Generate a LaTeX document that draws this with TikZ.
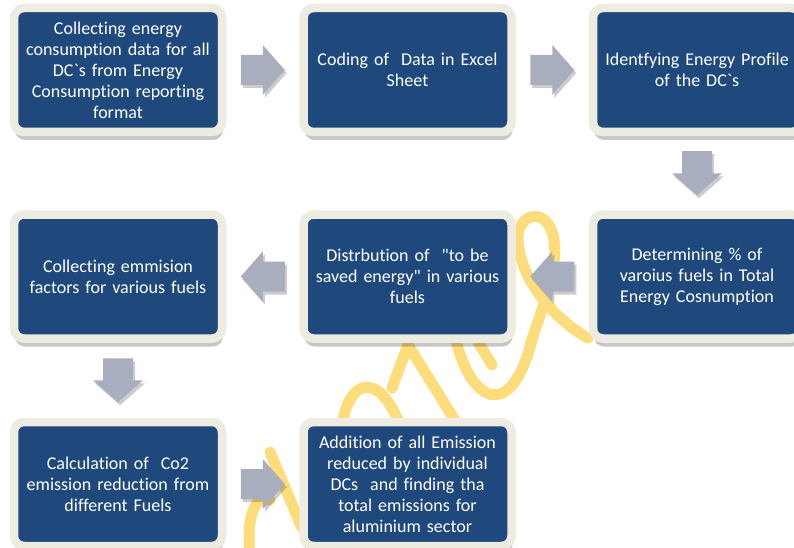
\documentclass[tikz,border=0pt]{standalone}
\usepackage{fontspec}
\setmainfont{Carlito}[Ligatures={TeXOff,CommonOff}]
\usetikzlibrary{shadows,calc}
\definecolor{boxblue}{HTML}{1F497D}
\definecolor{frame}{HTML}{EEEBE0}
\definecolor{arrowgray}{HTML}{A9AEBF}
\definecolor{wmk}{HTML}{FDDC7C}
\newcommand\flowarrow[3]{%
  \coordinate (#1) at #2;
  \fill[arrowfill, shift={(#1)}, rotate=#3]
    (-22,-15) -- (0,-15) -- (0,-25) -- (22,0) -- (0,25) -- (0,15) -- (-22,15) -- cycle;}
\begin{document}
\begin{tikzpicture}[x=1pt,y=-1pt,
  stepbox/.style={draw=frame, line width=8.5pt, fill=boxblue, rounded corners=10pt,
    minimum width=208pt, minimum height=124pt, inner sep=0pt, text width=200pt,
    align=center, text=white, font=\fontsize{18}{21}\selectfont,
    drop shadow={shadow xshift=1pt, shadow yshift=-8pt, opacity=0.22, fill=black}},
  arrowfill/.style={fill=arrowgray,
    drop shadow={shadow xshift=2pt, shadow yshift=-3pt, opacity=0.2, fill=black}},
  wm/.style={draw=wmk, line width=11pt, line cap=round}]
\useasboundingbox (0,0) rectangle (794,548);
% watermark
\draw[wm] (250,556) .. controls (246,515) and (255,495) .. (270,500);
\draw[wm] (270,452) -- (302,528);
\draw[wm] (343,422) .. controls (348,385) and (375,368) .. (398,420);
\draw[wm] (392,388) -- (408,345) -- (456,422);
\draw[wm] (456,340) .. controls (470,400) and (510,425) .. (532,340);
\draw[wm] (478,342) -- (492,365);
\draw[wm] (588,338) .. controls (555,320) and (520,280) .. (518,240)
  .. controls (516,215) and (545,205) .. (553,235)
  .. controls (560,265) and (545,300) .. (530,345);
% boxes
\node[stepbox] (b1) at (118,70) {Collecting energy\\ consumption data for all\\ DC{\char"60}s from Energy\\ Consumption reporting\\ format};
\node[stepbox] (b2) at (407.5,70) {Coding of~ Data in Excel\\ Sheet};
\node[stepbox] (b3) at (697,70) {Identfying Energy Profile\\ of the DC{\char"60}s};
\node[stepbox] (b6) at (697,276.5) {Determining \% of\\ varoius fuels in Total\\ Energy Cosnumption};
\node[stepbox] (b5) at (407.5,276.5) {Distrbution of~ {\char"22}to be\\ saved energy{\char"22} in various\\ fuels};
\node[stepbox] (b4) at (118,276.5) {Collecting emmision\\ factors for various fuels};
\node[stepbox] (b7) at (118,484) {Calculation of~ Co2\\ emission reduction from\\ different Fuels};
\node[stepbox] (b8) at (407.5,484) {Addition of all Emission\\ reduced by individual\\ DCs~ and finding tha\\ total emissions for\\ aluminium sector};
% arrows
\flowarrow{a12}{($(b1.east)!0.5!(b2.west)$)}{0}
\flowarrow{a23}{($(b2.east)!0.5!(b3.west)$)}{0}
\flowarrow{a36}{($(b3.south)!0.5!(b6.north)$)}{-90}
\flowarrow{a65}{($(b6.west)!0.5!(b5.east)$)}{180}
\flowarrow{a54}{($(b5.west)!0.5!(b4.east)$)}{180}
\flowarrow{a47}{($(b4.south)!0.5!(b7.north)$)}{-90}
\flowarrow{a78}{($(b7.east)!0.5!(b8.west)$)}{0}
\end{tikzpicture}
\end{document}
